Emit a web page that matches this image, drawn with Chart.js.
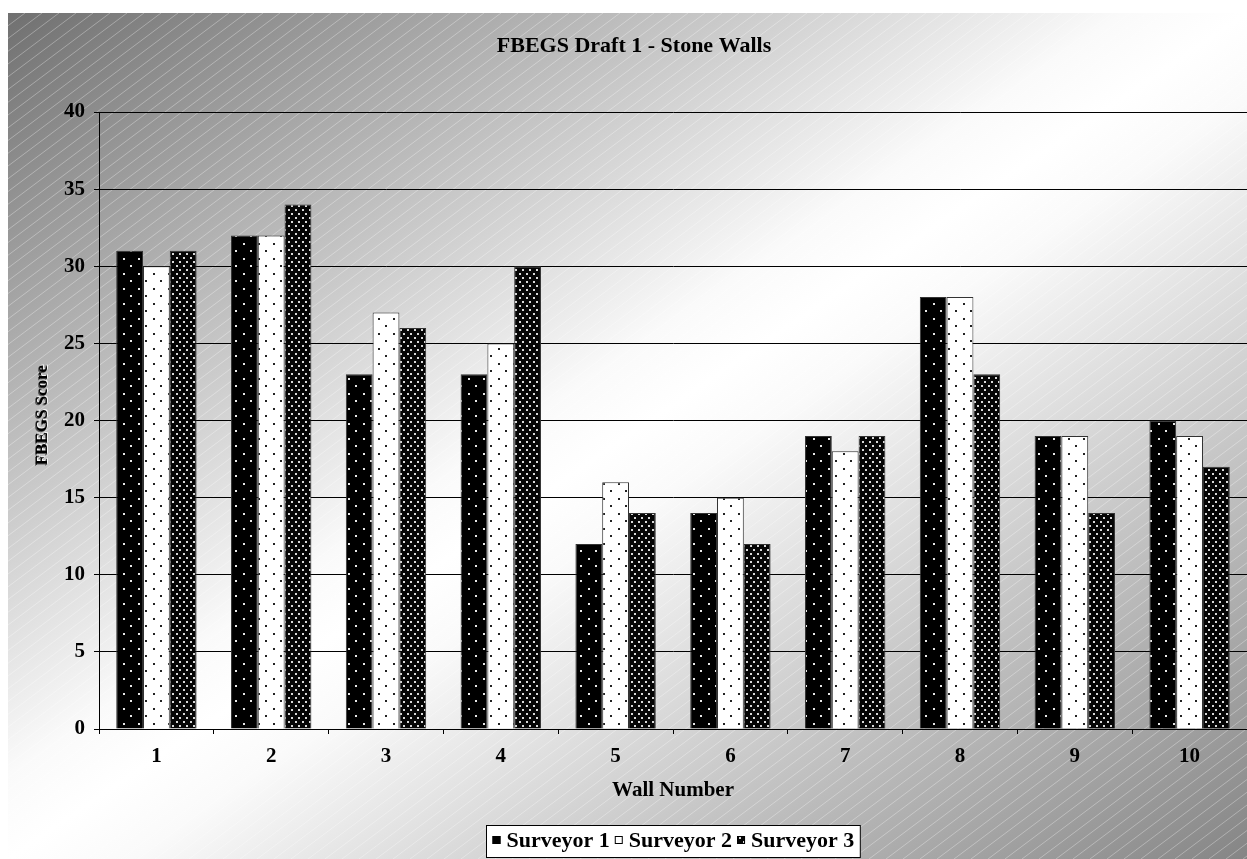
<!DOCTYPE html>
<html>
<head>
<meta charset="utf-8">
<script src="https://cdn.jsdelivr.net/npm/chart.js@4/dist/chart.umd.min.js"></script>
<style>
  html, body { margin: 0; padding: 0; background: #fff; }
  canvas { display: block; }
</style>
</head>
<body>
<canvas id="chart" width="1247" height="859"></canvas>
<script>
// Wall numbers along the x axis
const wallNumbers = ['1', '2', '3', '4', '5', '6', '7', '8', '9', '10'];

// FBEGS scores given by each surveyor, one value per wall
const surveyor1 = [31, 32, 23, 23, 12, 14, 19, 28, 19, 20];
const surveyor2 = [30, 32, 27, 25, 16, 15, 18, 28, 19, 19];
const surveyor3 = [31, 34, 26, 30, 14, 12, 19, 23, 14, 17];

const seriesNames = ['Surveyor 1', 'Surveyor 2', 'Surveyor 3'];

// Score axis range and tick step
const yMin = 0;
const yMax = 40;
const yStep = 5;

const chartTitle = 'FBEGS Draft 1 - Stone Walls';
const xTitle = 'Wall Number';
const yTitle = 'FBEGS Score';

const SERIF = '"Liberation Serif", "Times New Roman", serif';

const canvas = document.getElementById('chart');
const ctx = canvas.getContext('2d');

// Small dotted fill tiles for the three series
function dotPattern(size, bg, dot, dots) {
  const tile = document.createElement('canvas');
  tile.width = size[0];
  tile.height = size[1];
  const t = tile.getContext('2d');
  t.fillStyle = bg;
  t.fillRect(0, 0, size[0], size[1]);
  t.fillStyle = dot;
  dots.forEach(([x, y]) => t.fillRect(x, y, 2, 2));
  return ctx.createPattern(tile, 'repeat');
}

const fills = [
  dotPattern([15, 15], '#000', '#e8e8e8', [[3, 3], [10, 10]]),
  dotPattern([15, 15], '#fff', '#222', [[3, 3], [10, 10]]),
  dotPattern([7, 8], '#050505', '#d8d8d8', [[1, 1], [4, 5]])
];

// Grey diagonal gradient with fine white hatching behind the whole chart
const backdrop = {
  id: 'backdrop',
  beforeDraw(chart) {
    const c = chart.ctx;
    const W = chart.width, H = chart.height;
    const x0 = 8, y0 = 13, x1 = W, y1 = H;
    const w = x1 - x0, h = y1 - y0;
    c.save();
    c.fillStyle = '#fff';
    c.fillRect(0, 0, W, H);

    const cx = (x0 + x1) / 2, cy = (y0 + y1) / 2;
    const len = Math.hypot(w, h);
    const nx = h / len, ny = w / len;
    const half = w * h / len;
    const g = c.createLinearGradient(cx - nx * half, cy - ny * half, cx + nx * half, cy + ny * half);
    g.addColorStop(0, '#707070');
    g.addColorStop(0.45, '#fafafa');
    g.addColorStop(0.5, '#ffffff');
    g.addColorStop(0.55, '#fafafa');
    g.addColorStop(1, '#858585');
    c.fillStyle = g;
    c.fillRect(x0, y0, w, h);

    c.beginPath();
    c.rect(x0, y0, w, h);
    c.clip();
    c.strokeStyle = 'rgba(255,255,255,0.32)';
    c.lineWidth = 1;
    const run = h / 0.75;
    c.beginPath();
    for (let x = x0 - run; x < x1 + 20; x += 17) {
      c.moveTo(x, y1);
      c.lineTo(x + run, y0);
    }
    c.stroke();
    c.restore();
  }
};

// Chart title, axis titles and the boxed legend
const annotations = {
  id: 'annotations',
  afterDraw(chart) {
    const c = chart.ctx;
    const area = chart.chartArea;
    c.save();
    c.fillStyle = '#000';

    c.font = 'bold 22px ' + SERIF;
    c.textAlign = 'center';
    c.textBaseline = 'alphabetic';
    c.fillText(chartTitle, 634, 52);

    c.font = 'bold 21px ' + SERIF;
    c.fillText(xTitle, (area.left + area.right) / 2, 796);

    c.save();
    c.translate(47, 415);
    c.rotate(-Math.PI / 2);
    c.font = 'bold 17px ' + SERIF;
    c.fillStyle = 'rgba(255,255,255,0.85)';
    c.fillText(yTitle, 1, 1);
    c.fillStyle = 'rgba(0,0,0,0.55)';
    c.fillText(yTitle, -1, -1);
    c.fillStyle = '#000';
    c.fillText(yTitle, 0, 0);
    c.restore();

    // legend
    c.font = 'bold 22px ' + SERIF;
    c.textAlign = 'left';
    const marker = 8, gapAfterMarker = 6, gapAfterText = 5, inset = 6;
    const widths = seriesNames.map(n => c.measureText(n).width);
    let total = inset * 2;
    widths.forEach((tw, i) => {
      total += marker + gapAfterMarker + tw + (i < widths.length - 1 ? gapAfterText : 0);
    });
    const boxTop = 825, boxH = 32;
    const boxLeft = Math.round((area.left + area.right) / 2 - total / 2) + 0.5;
    c.fillStyle = '#fff';
    c.fillRect(boxLeft, boxTop + 0.5, total, boxH);
    c.strokeStyle = '#000';
    c.lineWidth = 1;
    c.strokeRect(boxLeft, boxTop + 0.5, total, boxH);

    let x = boxLeft + inset;
    const mid = boxTop + boxH / 2;
    seriesNames.forEach((name, i) => {
      c.fillStyle = fills[i];
      c.fillRect(x, mid - marker / 2 - 1, marker, marker);
      c.strokeStyle = '#000';
      c.strokeRect(x + 0.5, mid - marker / 2 - 0.5, marker - 1, marker - 1);
      x += marker + gapAfterMarker;
      c.fillStyle = '#000';
      c.fillText(name, x, 847);
      x += widths[i] + gapAfterText;
    });
    c.restore();
  }
};

const seriesValues = [surveyor1, surveyor2, surveyor3];

new Chart(ctx, {
  type: 'bar',
  data: {
    labels: wallNumbers,
    datasets: seriesNames.map((name, i) => ({
      label: name,
      data: seriesValues[i],
      backgroundColor: fills[i],
      borderColor: '#333',
      borderWidth: 1,
      borderSkipped: 'bottom',
      categoryPercentage: 0.7,
      barPercentage: 1.0
    }))
  },
  options: {
    responsive: false,
    animation: false,
    events: [],
    layout: { padding: { left: 8, right: 0, top: 112, bottom: 90 } },
    plugins: {
      legend: { display: false },
      title: { display: false },
      tooltip: { enabled: false }
    },
    scales: {
      x: {
        offset: true,
        afterFit(scale) { scale.height = 40; },
        grid: {
          offset: true,
          drawOnChartArea: false,
          drawTicks: true,
          tickLength: 5,
          color: '#000'
        },
        border: { display: true, color: '#000', width: 1 },
        ticks: {
          color: '#000',
          padding: 10,
          maxRotation: 0,
          font: { family: SERIF, size: 21, weight: 'bold' }
        }
      },
      y: {
        min: yMin,
        max: yMax,
        afterFit(scale) { scale.width = 91; },
        grid: {
          color: '#000',
          lineWidth: 1,
          drawTicks: true,
          tickLength: 5
        },
        border: { display: true, color: '#000', width: 1 },
        ticks: {
          stepSize: yStep,
          color: '#000',
          padding: 9,
          font: { family: SERIF, size: 21, weight: 'bold' }
        }
      }
    }
  },
  plugins: [backdrop, annotations]
});
</script>
</body>
</html>
